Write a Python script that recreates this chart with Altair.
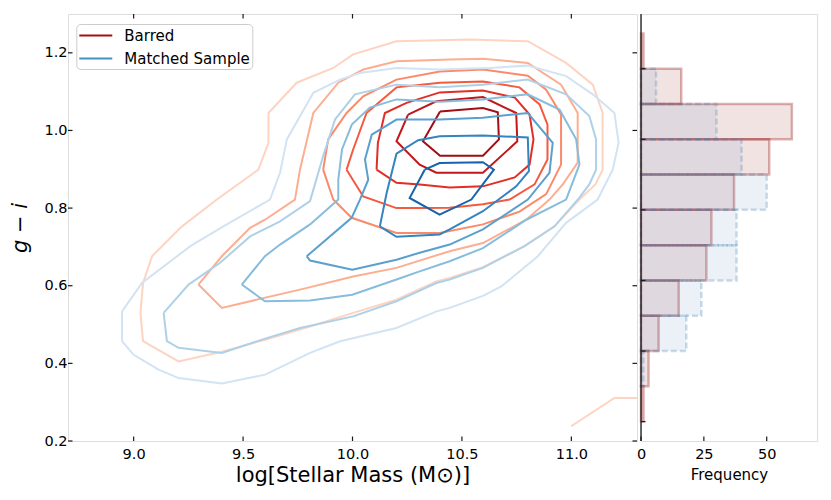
import altair as alt
import pandas as pd

FONT = "DejaVu Sans"
INK = "#1a1a1a"
W, H = 569, 427      # main panel
HW = 176             # histogram panel width
TICK = 4.5

# ---------------- axis ticks / labels ----------------
mass_ticks = [9.0, 9.5, 10.0, 10.5, 11.0]
color_ticks = [0.2, 0.4, 0.6, 0.8, 1.0, 1.2]
freq_ticks = [0, 25, 50]
hist_edge_ticks = [0.2, 0.4, 0.6, 0.8, 1.0, 1.2]

series_names = ["Barred", "Matched Sample"]
legend_colors = ["#a50f15", "#4292c6"]

# ---------------- histogram (g - i) ----------------
bin_lo = [0.2, 0.3, 0.4, 0.5, 0.6, 0.7, 0.8, 0.9, 1.0, 1.1, 1.2]
bin_width = 0.1
barred_counts = [1, 3, 7, 15, 26, 28, 37, 51, 60, 16, 1]
matched_counts = [0, 1, 18, 24, 38, 38, 50, 40, 30, 6, 0]

# ---------------- contour levels (mass, g-i), outermost -> innermost ----------------
barred_l1 = [(9.031, 0.530), (9.043, 0.607), (9.084, 0.676), (9.221, 0.753), (9.380, 0.822),
             (9.570, 0.899), (9.616, 0.968), (9.616, 1.045), (9.745, 1.123), (9.912, 1.161),
             (10.003, 1.196), (10.201, 1.230), (10.535, 1.234), (10.801, 1.230), (10.976, 1.174),
             (11.098, 1.118), (11.143, 1.045), (11.143, 0.899), (11.110, 0.861), (11.037, 0.822),
             (10.923, 0.753), (10.786, 0.702), (10.596, 0.648), (10.444, 0.620), (10.383, 0.611),
             (10.201, 0.564), (10.003, 0.530), (9.806, 0.495), (9.601, 0.461), (9.403, 0.430),
             (9.205, 0.405), (9.043, 0.457)]
barred_l1_piece = [(10.999, 0.238), (11.197, 0.311), (11.3, 0.311)]
barred_l2 = [(9.296, 0.603), (9.403, 0.676), (9.532, 0.749), (9.600, 0.770), (9.737, 0.822),
             (9.760, 0.899), (9.821, 1.045), (9.935, 1.123), (10.049, 1.157), (10.201, 1.178),
             (10.444, 1.183), (10.596, 1.185), (10.801, 1.174), (10.953, 1.118), (11.029, 1.045),
             (11.029, 0.917), (10.961, 0.861), (10.900, 0.822), (10.794, 0.770), (10.596, 0.710),
             (10.444, 0.689), (10.201, 0.646), (10.003, 0.624), (9.760, 0.590), (9.403, 0.543)]
barred_l3 = [(9.866, 0.899), (9.889, 0.977), (9.973, 1.045), (10.049, 1.088), (10.201, 1.131),
             (10.399, 1.152), (10.596, 1.157), (10.801, 1.141), (10.885, 1.105), (10.953, 1.041),
             (10.953, 0.912), (10.885, 0.836), (10.763, 0.791), (10.596, 0.758), (10.399, 0.736),
             (10.201, 0.736), (9.996, 0.775), (9.912, 0.822)]
barred_l4 = [(9.973, 0.899), (10.003, 0.951), (10.064, 1.045), (10.201, 1.111), (10.399, 1.123),
             (10.596, 1.126), (10.763, 1.111), (10.855, 1.067), (10.891, 1.015), (10.891, 0.925),
             (10.832, 0.861), (10.718, 0.822), (10.596, 0.810), (10.444, 0.801), (10.307, 0.800),
             (10.201, 0.800), (10.049, 0.830)]
barred_l5 = [(10.110, 0.899), (10.116, 0.968), (10.148, 1.045), (10.247, 1.071), (10.399, 1.098),
             (10.596, 1.103), (10.741, 1.085), (10.809, 1.041), (10.827, 0.977), (10.809, 0.912),
             (10.741, 0.879), (10.596, 0.856), (10.444, 0.853), (10.307, 0.861), (10.201, 0.865)]
barred_l6 = [(10.254, 1.041), (10.383, 1.075), (10.596, 1.086), (10.748, 1.045), (10.753, 0.972),
             (10.596, 0.891), (10.383, 0.891), (10.307, 0.912), (10.201, 0.972)]
barred_l7 = [(10.400, 1.049), (10.596, 1.058), (10.664, 1.047), (10.669, 0.977), (10.596, 0.935),
             (10.400, 0.935), (10.322, 0.972)]

matched_l1 = [(8.947, 0.534), (9.038, 0.607), (9.259, 0.702), (9.410, 0.753), (9.623, 0.822),
              (9.669, 0.891), (9.700, 0.977), (9.821, 1.097), (9.943, 1.131), (10.034, 1.148),
              (10.201, 1.161), (10.398, 1.157), (10.626, 1.161), (10.801, 1.167), (10.976, 1.140),
              (11.098, 1.093), (11.197, 1.045), (11.216, 0.968), (11.189, 0.899), (11.120, 0.822),
              (10.976, 0.762), (10.847, 0.676), (10.680, 0.598), (10.596, 0.574), (10.444, 0.543),
              (10.384, 0.534), (10.201, 0.491), (9.943, 0.457), (9.806, 0.427), (9.601, 0.371),
              (9.403, 0.348), (9.205, 0.362), (9.114, 0.384), (9.000, 0.422), (8.947, 0.457)]
matched_l2 = [(9.137, 0.530), (9.251, 0.603), (9.395, 0.659), (9.532, 0.727), (9.669, 0.766),
              (9.806, 0.818), (9.866, 0.934), (9.920, 1.028), (10.011, 1.093), (10.201, 1.118),
              (10.399, 1.111), (10.596, 1.118), (10.801, 1.131), (10.976, 1.093), (11.082, 1.037),
              (11.113, 0.977), (11.113, 0.899), (11.082, 0.861), (11.037, 0.827), (10.923, 0.753),
              (10.786, 0.702), (10.596, 0.646), (10.444, 0.616), (10.383, 0.607), (10.201, 0.560),
              (10.003, 0.521), (9.760, 0.491), (9.608, 0.465), (9.403, 0.427), (9.205, 0.440),
              (9.152, 0.457)]
matched_l3 = [(9.494, 0.603), (9.600, 0.676), (9.669, 0.706), (9.806, 0.758), (9.935, 0.822),
              (9.935, 0.873), (9.952, 0.951), (9.997, 1.015), (10.079, 1.059), (10.201, 1.080),
              (10.399, 1.074), (10.596, 1.080), (10.801, 1.093), (10.946, 1.054), (11.022, 0.977),
              (11.037, 0.912), (10.976, 0.822), (10.794, 0.770), (10.596, 0.697), (10.444, 0.663),
              (10.307, 0.637), (10.201, 0.616), (9.999, 0.577), (9.806, 0.562), (9.600, 0.560)]
matched_l4 = [(9.791, 0.676), (9.996, 0.775), (10.034, 0.822), (10.072, 0.873), (10.057, 0.925),
              (10.088, 0.989), (10.201, 1.028), (10.399, 1.028), (10.596, 1.033), (10.801, 1.045),
              (10.915, 0.968), (10.900, 0.891), (10.801, 0.822), (10.596, 0.745), (10.444, 0.706),
              (10.307, 0.685), (10.201, 0.667), (9.999, 0.641), (9.806, 0.665)]
matched_l5 = [(10.125, 0.753), (10.156, 0.839), (10.201, 0.940), (10.300, 0.975), (10.398, 0.985),
              (10.596, 0.987), (10.801, 0.982), (10.806, 0.895), (10.748, 0.856), (10.596, 0.792),
              (10.444, 0.745), (10.398, 0.732), (10.201, 0.726)]
matched_l6 = [(10.330, 0.899), (10.398, 0.916), (10.596, 0.918), (10.646, 0.899), (10.543, 0.822),
              (10.398, 0.783), (10.261, 0.826)]

barred_levels = [barred_l1, barred_l2, barred_l3, barred_l4, barred_l5, barred_l6, barred_l7]
matched_levels = [matched_l1, matched_l2, matched_l3, matched_l4, matched_l5, matched_l6]
barred_line_colors = ["#fdd4c2", "#fcae92", "#fb8a6a", "#f45a40", "#e02f26", "#c2161b", "#a00e14"]
matched_line_colors = ["#d2e3f3", "#afd1e7", "#86bcdc", "#5aa0cf", "#3484bf", "#1864aa"]


def contour_frame(name, levels, colors, extra=None):
    rows = []
    for li, (pts, col) in enumerate(zip(levels, colors)):
        closed = list(pts) + [pts[0]]
        for k, (m, c) in enumerate(closed):
            rows.append({"cid": f"{name}-{li}", "k": k, "mass": m, "color": c, "stroke": col})
    if extra is not None:
        pts, col = extra
        for k, (m, c) in enumerate(pts):
            rows.append({"cid": f"{name}-piece", "k": k, "mass": m, "color": c, "stroke": col})
    return pd.DataFrame(rows)


red_df = contour_frame("barred", barred_levels, barred_line_colors,
                       (barred_l1_piece, barred_line_colors[0]))
blue_df = contour_frame("matched", matched_levels, matched_line_colors)

xs = alt.Scale(domain=[8.7, 11.3], nice=False, zero=False)
ys = alt.Scale(domain=[0.2, 1.3], nice=False, zero=False)

common_axis = dict(ticks=False, tickSize=0, domain=False, grid=False, labelFont=FONT,
                   titleFont=FONT, labelColor="black", titleColor="black",
                   titleFontWeight="normal", labelFlush=False, labelOverlap=False)
xaxis = alt.Axis(values=mass_ticks, format=".1f", title="log[Stellar Mass (M⊙)]",
                 labelFontSize=14.5, titleFontSize=21, labelPadding=6.5, titlePadding=3.5,
                 **common_axis)
yaxis = alt.Axis(values=color_ticks, format=".1f", title="g − i", titleFontStyle="italic",
                 labelFontSize=14.5, titleFontSize=21, labelPadding=1, titlePadding=13,
                 **common_axis)

X = alt.X("mass:Q", scale=xs, axis=xaxis)
Y = alt.Y("color:Q", scale=ys, axis=yaxis)

red_lines = alt.Chart(red_df).mark_line(strokeWidth=2, clip=True).encode(
    x=X, y=Y, detail="cid:N", order="k:Q", stroke=alt.Stroke("stroke:N", scale=None))
blue_lines = alt.Chart(blue_df).mark_line(strokeWidth=2, clip=True).encode(
    x=X, y=Y, detail="cid:N", order="k:Q", stroke=alt.Stroke("stroke:N", scale=None))

# legend-only layer (one point per series, so no visible line)
legend_df = pd.DataFrame({
    "series": series_names,
    "mass": [barred_l7[0][0], matched_l6[0][0]],
    "color": [barred_l7[0][1], matched_l6[0][1]],
})
legend_layer = alt.Chart(legend_df).mark_line(strokeWidth=2).encode(
    x=X, y=Y,
    color=alt.Color("series:N", scale=alt.Scale(domain=series_names, range=legend_colors),
                    legend=alt.Legend(title=None, orient="none", legendX=8.3, legendY=10,
                                      direction="vertical", symbolType="M-1,0H2.88",
                                      symbolSize=289, symbolStrokeWidth=2,
                                      labelFont=FONT, labelFontSize=15, labelColor="black",
                                      labelOffset=27, padding=2, rowPadding=5,
                                      strokeColor="#cccccc", fillColor="white",
                                      cornerRadius=4)))

mt_df = pd.DataFrame({"mass": mass_ticks})
ct_df = pd.DataFrame({"color": color_ticks})
tick_style = dict(color=INK, strokeWidth=1.2)
ticks_bottom = alt.Chart(mt_df).mark_rule(**tick_style).encode(x=X, y=alt.value(H), y2=alt.value(H - TICK))
ticks_top = alt.Chart(mt_df).mark_rule(**tick_style).encode(x=X, y=alt.value(0), y2=alt.value(TICK))
ticks_left = alt.Chart(ct_df).mark_rule(**tick_style).encode(y=Y, x=alt.value(0), x2=alt.value(TICK))
ticks_right = alt.Chart(ct_df).mark_rule(**tick_style).encode(y=Y, x=alt.value(W), x2=alt.value(W - TICK))

main = alt.layer(red_lines, blue_lines, legend_layer, ticks_bottom, ticks_top, ticks_left,
                 ticks_right).properties(width=W, height=H)

# ---------------- histogram panel ----------------
def hist_frame(counts):
    return pd.DataFrame([{"lo": lo, "hi": round(lo + bin_width, 3), "freq": n, "base": 0}
                         for lo, n in zip(bin_lo, counts) if n > 0])


hx = alt.Scale(domain=[0, 70], nice=False, zero=False)
hy = alt.Scale(domain=[0.145, 1.355], nice=False, zero=False)
haxis = alt.Axis(values=freq_ticks, format="d", title="Frequency", labelFontSize=14.5,
                 titleFontSize=15, labelPadding=6.5, titlePadding=6, **common_axis)
HX = alt.X("base:Q", scale=hx, axis=haxis)
HY = alt.Y("lo:Q", scale=hy, axis=None)

red_bars = alt.Chart(hist_frame(barred_counts)).mark_rect(
    fill="#8b0000", fillOpacity=0.11, stroke="#8b0000", strokeOpacity=0.3, strokeWidth=2.5
).encode(x=HX, x2="freq:Q", y=HY, y2="hi:Q")
blue_bars = alt.Chart(hist_frame(matched_counts)).mark_rect(
    fill="#4682b4", fillOpacity=0.11, stroke="#4682b4", strokeOpacity=0.28, strokeWidth=2.5,
    strokeDash=[6, 3]
).encode(x=HX, x2="freq:Q", y=HY, y2="hi:Q")

ft_df = pd.DataFrame({"base": freq_ticks})
he_df = pd.DataFrame({"lo": hist_edge_ticks})
spine_df = pd.DataFrame({"base": [0]})
hticks_bottom = alt.Chart(ft_df).mark_rule(**tick_style).encode(x=HX, y=alt.value(H), y2=alt.value(H - TICK))
hticks_left = alt.Chart(he_df).mark_rule(**tick_style).encode(y=HY, x=alt.value(0), x2=alt.value(TICK))
# left spine drawn above the bars, as in the original
hist_spine = alt.Chart(spine_df).mark_rule(color=INK, strokeWidth=1.3).encode(
    x=HX, y=alt.value(0), y2=alt.value(H))

hist = alt.layer(red_bars, blue_bars, hist_spine, hticks_bottom, hticks_left).properties(
    width=HW, height=H)

chart = alt.hconcat(main, hist, spacing=4, bounds="flush").properties(
    padding={"left": 1, "top": 4, "right": 0, "bottom": 0},
    background="white",
).configure_view(stroke=INK, strokeWidth=1.3).configure(font=FONT)

chart.save("out.html", embed_options={"renderer": "svg", "actions": False})
